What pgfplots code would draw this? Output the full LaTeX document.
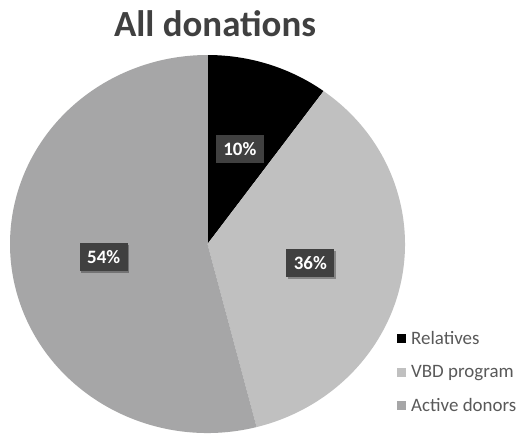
\documentclass[border=0pt]{standalone}
\usepackage{pgfplots}
\pgfplotsset{compat=1.18}
\usepackage{pgfplotstable}
\usepackage{fontspec}
\setmainfont{Carlito}
\usetikzlibrary{shadows}

\definecolor{rel}{HTML}{000000}
\definecolor{vbd}{HTML}{C0C0C0}
\definecolor{act}{HTML}{A6A6A7}
\definecolor{lab}{HTML}{404040}
\definecolor{txt}{HTML}{595959}

\tikzset{lbl/.style={fill=lab, text=white, font=\bfseries\fontsize{19}{20}\selectfont,
    inner sep=0pt, minimum width=48bp, minimum height=28bp,
    drop shadow={shadow xshift=1.5bp, shadow yshift=-2bp, opacity=0.3, fill=black}}}

% share of all donations, in percent
\pgfplotstableread{
name value colour
Relatives 10 rel
VBD 36 vbd
Active 54 act
}\donations

\begin{document}
\begin{tikzpicture}
\path[use as bounding box, fill=white] (0,0) rectangle (524bp,435bp);
\begin{axis}[
    at={(0,0)}, anchor=south west,
    scale only axis, width=524bp, height=435bp,
    xmin=0, xmax=524, ymin=0, ymax=435, y dir=reverse,
    hide axis, clip=false,
    legend image code/.code={\fill[#1, draw=none] (0bp,-4.5bp) rectangle (9bp,4.5bp);},
    legend style={at={(axis cs:397,328)}, anchor=north west, draw=none, fill=none,
        inner sep=0pt, row sep=12.5bp, column sep=5bp,
        font=\fontsize{19}{20}\selectfont, text=txt,
        cells={anchor=west},
        nodes={inner sep=0pt, minimum height=21bp}},
]
\def\cx{207.5}\def\cy{244}\def\rx{197.5}\def\ry{189}
\def\sa{90}
\pgfplotsforeachungrouped \i in {0,1,2}{%
  \pgfplotstablegetelem{\i}{value}\of\donations \let\v\pgfplotsretval
  \pgfplotstablegetelem{\i}{colour}\of\donations \let\c\pgfplotsretval
  \pgfmathsetmacro\ea{\sa-3.6*\v}
  \edef\tmp{\noexpand\fill[\c] (axis cs:\cx,\cy) -- ++(\sa:\rx bp and \ry bp)
    arc[start angle=\sa, end angle=\ea, x radius=\rx bp, y radius=\ry bp] -- cycle;}
  \tmp
  \let\sa\ea
}
\def\sa{90}
\pgfplotsforeachungrouped \i in {0,1,2}{%
  \pgfplotstablegetelem{\i}{value}\of\donations \let\v\pgfplotsretval
  \pgfmathsetmacro\ea{\sa-3.6*\v}
  \pgfmathsetmacro\ma{(\sa+\ea)/2}
  \pgfmathsetmacro\lx{\cx+0.53*\rx*cos(\ma)}
  \pgfmathsetmacro\ly{\cy-0.53*\ry*sin(\ma)}
  \edef\tmp{\noexpand\node[lbl] at (axis cs:\lx,\ly) {\v\noexpand\%};}
  \tmp
  \let\sa\ea
}
\node[font=\bfseries\fontsize{37}{40}\selectfont, text=lab, anchor=base]
  at (axis cs:215,37) {All donations};
\addlegendimage{fill=rel}
\addlegendentry{Relatives}
\addlegendimage{fill=vbd}
\addlegendentry{VBD program}
\addlegendimage{fill=act}
\addlegendentry{Active donors}
\end{axis}
\end{tikzpicture}
\end{document}
